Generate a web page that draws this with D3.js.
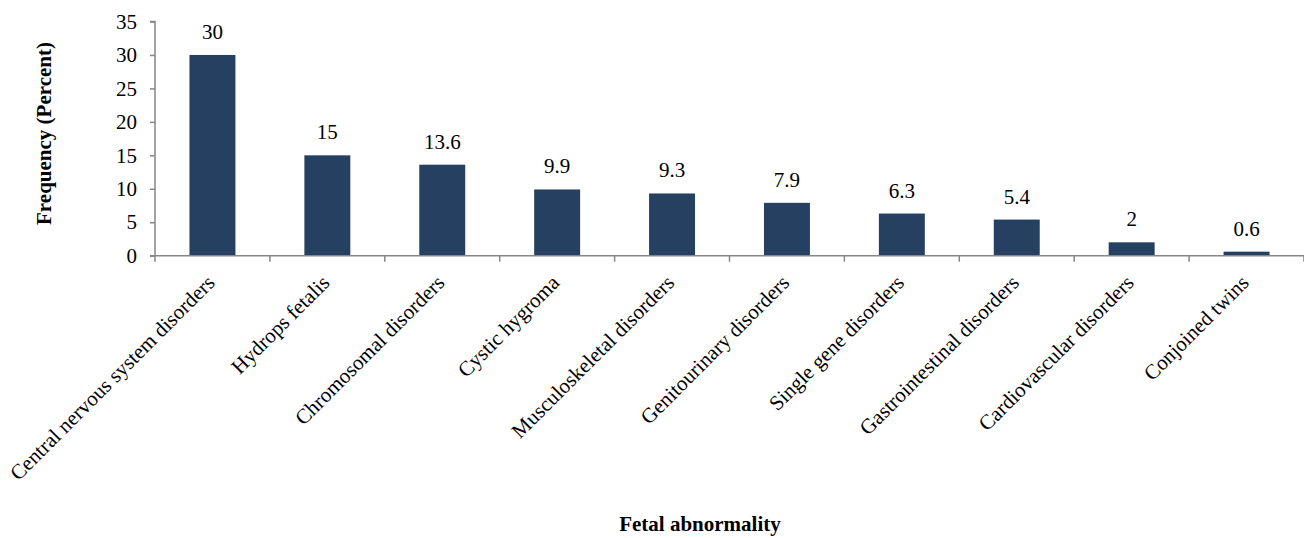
<!DOCTYPE html>
<html><head><meta charset="utf-8">
<script src="https://cdn.jsdelivr.net/npm/d3@7"></script>
<style>body{margin:0;background:#fff}svg{display:block}text{font-family:"Liberation Serif","Times New Roman",serif;fill:#000}</style>
</head><body><svg id="c" width="1304" height="538"></svg>
<script>
const categories = ["Central nervous system disorders","Hydrops fetalis","Chromosomal disorders","Cystic hygroma","Musculoskeletal disorders","Genitourinary disorders","Single gene disorders","Gastrointestinal disorders","Cardiovascular disorders","Conjoined twins"];
const values = [30, 15, 13.6, 9.9, 9.3, 7.9, 6.3, 5.4, 2, 0.6];
const yTicks = [0, 5, 10, 15, 20, 25, 30, 35];
const yTitle = "Frequency (Percent)";
const xTitle = "Fetal abnormality";

const FONT = '"Liberation Serif","Times New Roman",serif';
const FS = "21px";
const svg = d3.select("#c");
const x0 = 155, x1 = 1304, yTop = 21.5, yBot = 255.7;
const x = d3.scaleBand().domain(categories).range([x0, x1]).paddingInner(0.6).paddingOuter(0.3);
const y = d3.scaleLinear().domain([0, 35]).range([yBot, yTop]);
const axisColor = "#868686";

// bars
svg.append("g").selectAll("rect").data(values).join("rect")
  .attr("x", (d,i) => x(categories[i]))
  .attr("width", x.bandwidth())
  .attr("y", d => y(d))
  .attr("height", d => y(0) - y(d))
  .attr("fill", "#254061");

// value labels
svg.append("g").selectAll("text").data(values).join("text")
  .attr("x", (d,i) => x(categories[i]) + x.bandwidth()/2)
  .attr("y", d => y(d) - 16)
  .attr("text-anchor", "middle")
  .style("font-family", FONT).style("font-size", FS)
  .text(d => d);

// y axis
const ya = svg.append("g").attr("transform", `translate(${x0},0)`)
  .call(d3.axisLeft(y).tickValues(yTicks).tickSize(5).tickPadding(13).tickFormat(d3.format("d")));
ya.attr("font-family", null).attr("font-size", null);
ya.select(".domain").attr("stroke", axisColor).attr("stroke-width", 1.5).attr("d", `M-5,${yTop}H0V${yBot}`);
ya.selectAll(".tick line").attr("stroke", axisColor).attr("stroke-width", 1.5);
ya.selectAll(".tick text").style("font-family", FONT).style("font-size", FS).attr("fill", "#000");

// x axis line and ticks
const xg = svg.append("g");
xg.append("line").attr("x1", x0 - 5).attr("x2", x1).attr("y1", yBot).attr("y2", yBot)
  .attr("stroke", axisColor).attr("stroke-width", 1.5);
const bounds = d3.range(categories.length + 1).map(i => x0 + i * (x1 - x0) / categories.length);
xg.selectAll("line.t").data(bounds).join("line").attr("class","t")
  .attr("x1", d => d).attr("x2", d => d).attr("y1", yBot).attr("y2", yBot + 6)
  .attr("stroke", axisColor).attr("stroke-width", 1.5);

// category labels
xg.selectAll("text").data(categories).join("text")
  .attr("transform", d => `translate(${x(d) + x.bandwidth()/2 + 3.5},284) rotate(-45)`)
  .attr("text-anchor", "end")
  .style("font-family", FONT).style("font-size", FS)
  .text(d => d);

// titles
svg.append("text").attr("transform", `translate(51,133.5) rotate(-90)`)
  .attr("text-anchor", "middle").style("font-family", FONT).style("font-size", FS).style("font-weight", "bold").text(yTitle);
svg.append("text").attr("x", 700).attr("y", 531)
  .attr("text-anchor", "middle").style("font-family", FONT).style("font-size", FS).style("font-weight", "bold").text(xTitle);
</script></body></html>
